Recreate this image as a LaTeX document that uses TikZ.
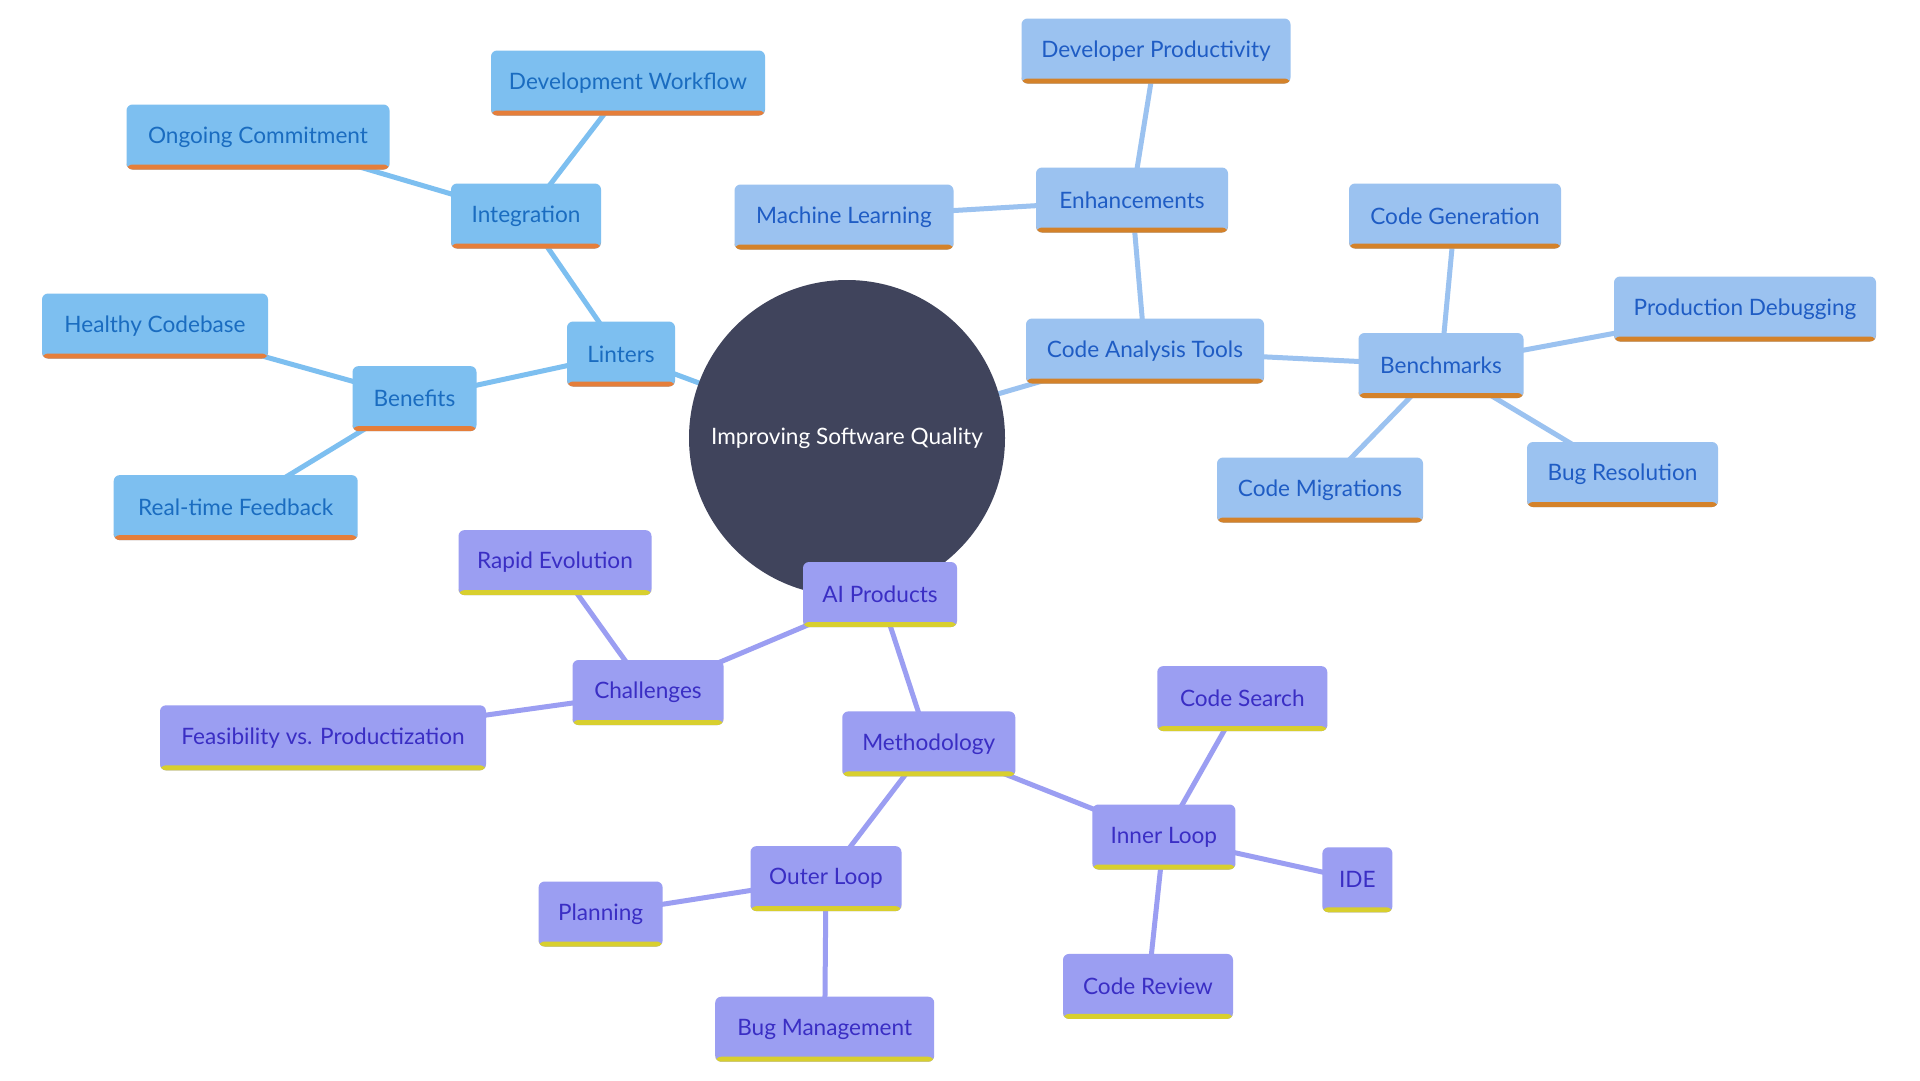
\documentclass[tikz,border=0pt]{standalone}
\usepackage{fontspec}
\setmainfont{Lato}
\usetikzlibrary{backgrounds}
\definecolor{centerc}{HTML}{40445C}
\definecolor{fA}{HTML}{7DBFF0}
\definecolor{tA}{HTML}{1A6CC0}
\definecolor{bA}{HTML}{E57E3A}
\definecolor{fB}{HTML}{9BC2F0}
\definecolor{tB}{HTML}{1F5CC4}
\definecolor{bB}{HTML}{D4822A}
\definecolor{fC}{HTML}{9B9EF2}
\definecolor{tC}{HTML}{3A2EC4}
\definecolor{bC}{HTML}{D8CF2E}
\tikzset{
  box/.style={rectangle, rounded corners=6pt, minimum height=65pt, inner sep=0pt,
    font=\fontsize{22.6}{27}\selectfont},
  boxA/.style={box, fill=fA, text=tA, path picture={\fill[bA] (path picture bounding box.south west) rectangle ([yshift=5pt]path picture bounding box.south east);}},
  boxB/.style={box, fill=fB, text=tB, path picture={\fill[bB] (path picture bounding box.south west) rectangle ([yshift=5pt]path picture bounding box.south east);}},
  boxC/.style={box, fill=fC, text=tC, path picture={\fill[bC] (path picture bounding box.south west) rectangle ([yshift=5pt]path picture bounding box.south east);}},
  eA/.style={draw=fA, line width=5pt},
  eB/.style={draw=fB, line width=5pt},
  eC/.style={draw=fC, line width=5pt},
}
\begin{document}
\begin{tikzpicture}[x=1pt,y=-1pt]
\useasboundingbox (0,0) rectangle (1920,1080);
\node[circle, fill=centerc, minimum size=316pt, text=white, font=\fontsize{22.6}{27}\selectfont] (c) at (847,438) {Improving Software Quality};
% Linters branch
\node[boxA, minimum width=108pt] (lin) at (621,354) {Linters};
\node[boxA, minimum width=150pt] (int) at (526,216) {Integration};
\node[boxA, minimum width=274pt] (dw) at (628,83) {Development Workflow};
\node[boxA, minimum width=263pt] (oc) at (258,137) {Ongoing Commitment};
\node[boxA, minimum width=124pt] (ben) at (414.5,398.6) {Benefits};
\node[boxA, minimum width=226pt] (hc) at (155,326) {Healthy Codebase};
\node[boxA, minimum width=244pt] (rf) at (235.7,507.6) {Real-time Feedback};
% Code analysis branch
\node[boxB, minimum width=238pt] (cat) at (1145,351) {Code Analysis Tools};
\node[boxB, minimum width=192pt] (enh) at (1132,200) {Enhancements};
\node[boxB, minimum width=269pt] (dp) at (1156,51) {Developer Productivity};
\node[boxB, minimum width=219pt] (ml) at (844,217) {Machine Learning};
\node[boxB, minimum width=165pt] (bm) at (1441,365.5) {Benchmarks};
\node[boxB, minimum width=212pt] (cg) at (1455,216) {Code Generation};
\node[boxB, minimum width=262pt] (pd) at (1745,309) {Production Debugging};
\node[boxB, minimum width=191pt] (br) at (1622.5,474.5) {Bug Resolution};
\node[boxB, minimum width=206pt] (cm) at (1320,490) {Code Migrations};
% AI branch
\node[boxC, minimum width=154pt] (ai) at (880,594.5) {AI Products};
\node[boxC, minimum width=151pt] (ch) at (648,692.5) {Challenges};
\node[boxC, minimum width=193pt] (re) at (555,562.6) {Rapid Evolution};
\node[boxC, minimum width=326pt] (fp) at (323,737.8) {Feasibility vs. Productization};
\node[boxC, minimum width=173pt] (me) at (928.8,743.9) {Methodology};
\node[boxC, minimum width=143pt] (il) at (1163.9,837) {Inner Loop};
\node[boxC, minimum width=170pt] (cs) at (1242.3,698.6) {Code Search};
\node[boxC, minimum width=70pt] (ide) at (1357.4,879.8) {IDE};
\node[boxC, minimum width=170pt] (cr) at (1148,986.4) {Code Review};
\node[boxC, minimum width=151pt] (ol) at (826,878.6) {Outer Loop};
\node[boxC, minimum width=124pt] (pl) at (600.6,914) {Planning};
\node[boxC, minimum width=219pt] (bmg) at (824.7,1029.2) {Bug Management};
\begin{pgfonlayer}{background}
\fill[white] (0,0) rectangle (1920,1080);
\draw[eA] (c.center) -- (lin.center);
\draw[eA] (lin.center) -- (int.center);
\draw[eA] (int.center) -- (dw.center);
\draw[eA] (int.center) -- (oc.center);
\draw[eA] (lin.center) -- (ben.center);
\draw[eA] (ben.center) -- (hc.center);
\draw[eA] (ben.center) -- (rf.center);
\draw[eB] (c.center) -- (cat.center);
\draw[eB] (cat.center) -- (enh.center);
\draw[eB] (enh.center) -- (dp.center);
\draw[eB] (enh.center) -- (ml.center);
\draw[eB] (cat.center) -- (bm.center);
\draw[eB] (bm.center) -- (cg.center);
\draw[eB] (bm.center) -- (pd.center);
\draw[eB] (bm.center) -- (br.center);
\draw[eB] (bm.center) -- (cm.center);
\draw[eC] (c.center) -- (ai.center);
\draw[eC] (ai.center) -- (ch.center);
\draw[eC] (ch.center) -- (re.center);
\draw[eC] (ch.center) -- (fp.center);
\draw[eC] (ai.center) -- (me.center);
\draw[eC] (me.center) -- (il.center);
\draw[eC] (il.center) -- (cs.center);
\draw[eC] (il.center) -- (ide.center);
\draw[eC] (il.center) -- (cr.center);
\draw[eC] (me.center) -- (ol.center);
\draw[eC] (ol.center) -- (pl.center);
\draw[eC] (ol.center) -- (bmg.center);
\end{pgfonlayer}
\end{tikzpicture}
\end{document}
